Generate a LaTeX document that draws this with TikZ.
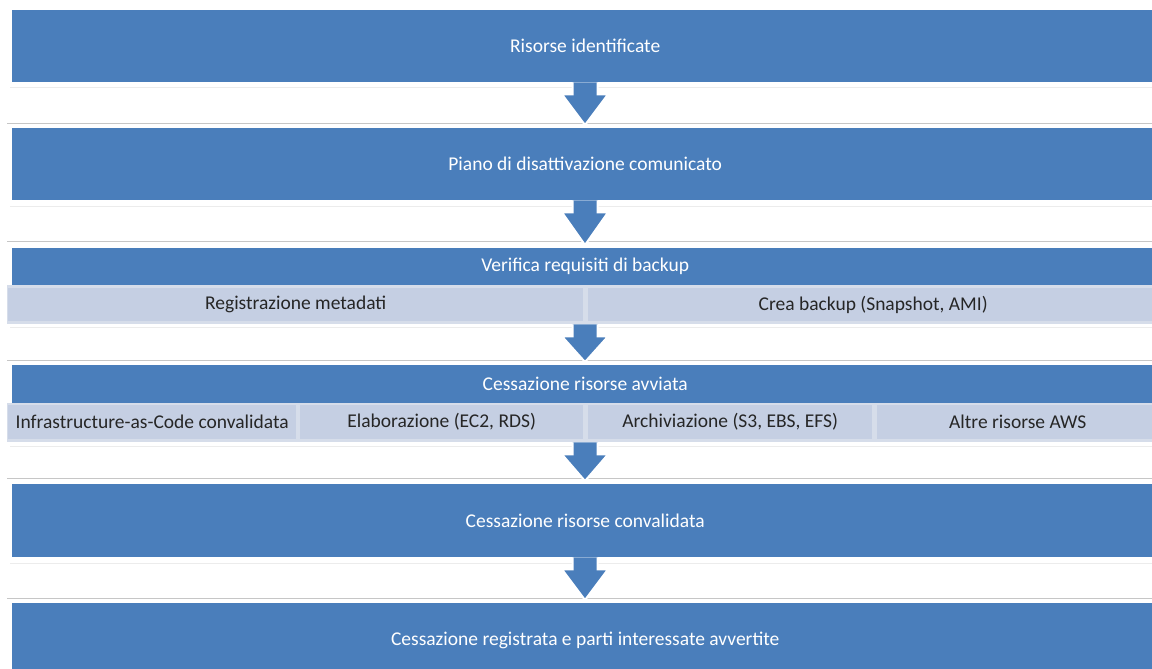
\documentclass[tikz,border=0pt]{standalone}
\usepackage{fontspec}
\setmainfont{Carlito}
\usetikzlibrary{positioning,calc}

\definecolor{barblue}{HTML}{4A7EBB}
\definecolor{cellblue}{HTML}{C5CFE3}
\definecolor{rimblue}{HTML}{D6DDEA}
\definecolor{celltext}{HTML}{262626}
\definecolor{bandtop}{HTML}{ECECEC}
\definecolor{bandbot}{HTML}{C6C6C6}

\tikzset{
  bar/.style={fill=barblue, text=white, anchor=north west, inner sep=0pt, minimum width=1146pt},
  rim/.style={fill=rimblue, anchor=north west, inner sep=0pt, minimum width=1156pt},
  cell/.style={fill=cellblue, text=celltext, anchor=north west, inner sep=0pt, minimum height=34pt},
  arrowrim/.style={draw=white, line width=2pt, line join=miter},
  bandline/.style={line width=1pt}
}

% block arrow from the bottom of one box to the top of the next
\newcommand{\flowarrow}[2]{%
  \fill[barblue] let \p1=(axis |- #1.south), \p2=(axis |- #2.north) in
    (\x1-12.5pt,\y1) -- (\x1-12.5pt,\y1-12pt) -- (\x1-23pt,\y1-12pt) -- (\x1,\y2+3pt)
    -- (\x1+23pt,\y1-12pt) -- (\x1+12.5pt,\y1-12pt) -- (\x1+12.5pt,\y1) -- cycle;
  \draw[arrowrim] let \p1=(axis |- #1.south), \p2=(axis |- #2.north) in
    (\x1-12.5pt,\y1) -- (\x1-12.5pt,\y1-12pt) -- (\x1-23pt,\y1-12pt) -- (\x1,\y2+3pt)
    -- (\x1+23pt,\y1-12pt) -- (\x1+12.5pt,\y1-12pt) -- (\x1+12.5pt,\y1);
}

\begin{document}
\begin{tikzpicture}[x=1pt, y=-1pt, font=\fontsize{19.5pt}{23pt}\selectfont]
    \useasboundingbox (0,0) rectangle (1152,669);
    \clip (0,0) rectangle (1152,669);

    % thin lines round the gaps
    \foreach \ya/\yb in {88/123, 206/241, 327/360, 446/478, 563/598} {
        \draw[bandline, bandtop] (10,\ya) -- (1152,\ya);
        \draw[bandline, bandbot] (7,\yb) -- (1152,\yb);
    }

    \coordinate (axis) at (585,0);

    \node[bar, minimum height=72pt] (b1) at (12,10) {Risorse identificate};
    \node[bar, minimum height=72pt] (b2) at (12,128) {Piano di disattivazione comunicato};

    \node[bar, minimum height=37pt] (b3) at (12,248) {Verifica requisiti di backup};
    \node[rim, minimum height=39pt] (r3) at (7,285) {};
    \node[cell, minimum width=575pt, minimum height=33pt] (c31) at (8,288) {Registrazione metadati};
    \node[cell, minimum width=570pt, minimum height=33pt] (c32) at (588,288) {Crea backup (Snapshot, AMI)};

    \node[bar, minimum height=38pt] (b4) at (12,365) {Cessazione risorse avviata};
    \node[rim, minimum height=39pt] (r4) at (7,403) {};
    \node[cell, minimum width=288pt] (c41) at (8,405) {Infrastructure-as-Code convalidata};
    \node[cell, minimum width=283pt] (c42) at (300,405) {Elaborazione (EC2, RDS)};
    \node[cell, minimum width=284pt] (c43) at (588,405) {Archiviazione (S3, EBS, EFS)};
    \node[cell, minimum width=281pt] (c44) at (877,405) {Altre risorse AWS};

    \node[bar, minimum height=73pt] (b5) at (12,484) {Cessazione risorse convalidata};
    \node[bar, minimum height=74pt] (b6) at (12,603) {Cessazione registrata e parti interessate avvertite};

    \flowarrow{b1}{b2}
    \flowarrow{b2}{b3}
    \flowarrow{r3}{b4}
    \flowarrow{r4}{b5}
    \flowarrow{b5}{b6}

\end{tikzpicture}
\end{document}
